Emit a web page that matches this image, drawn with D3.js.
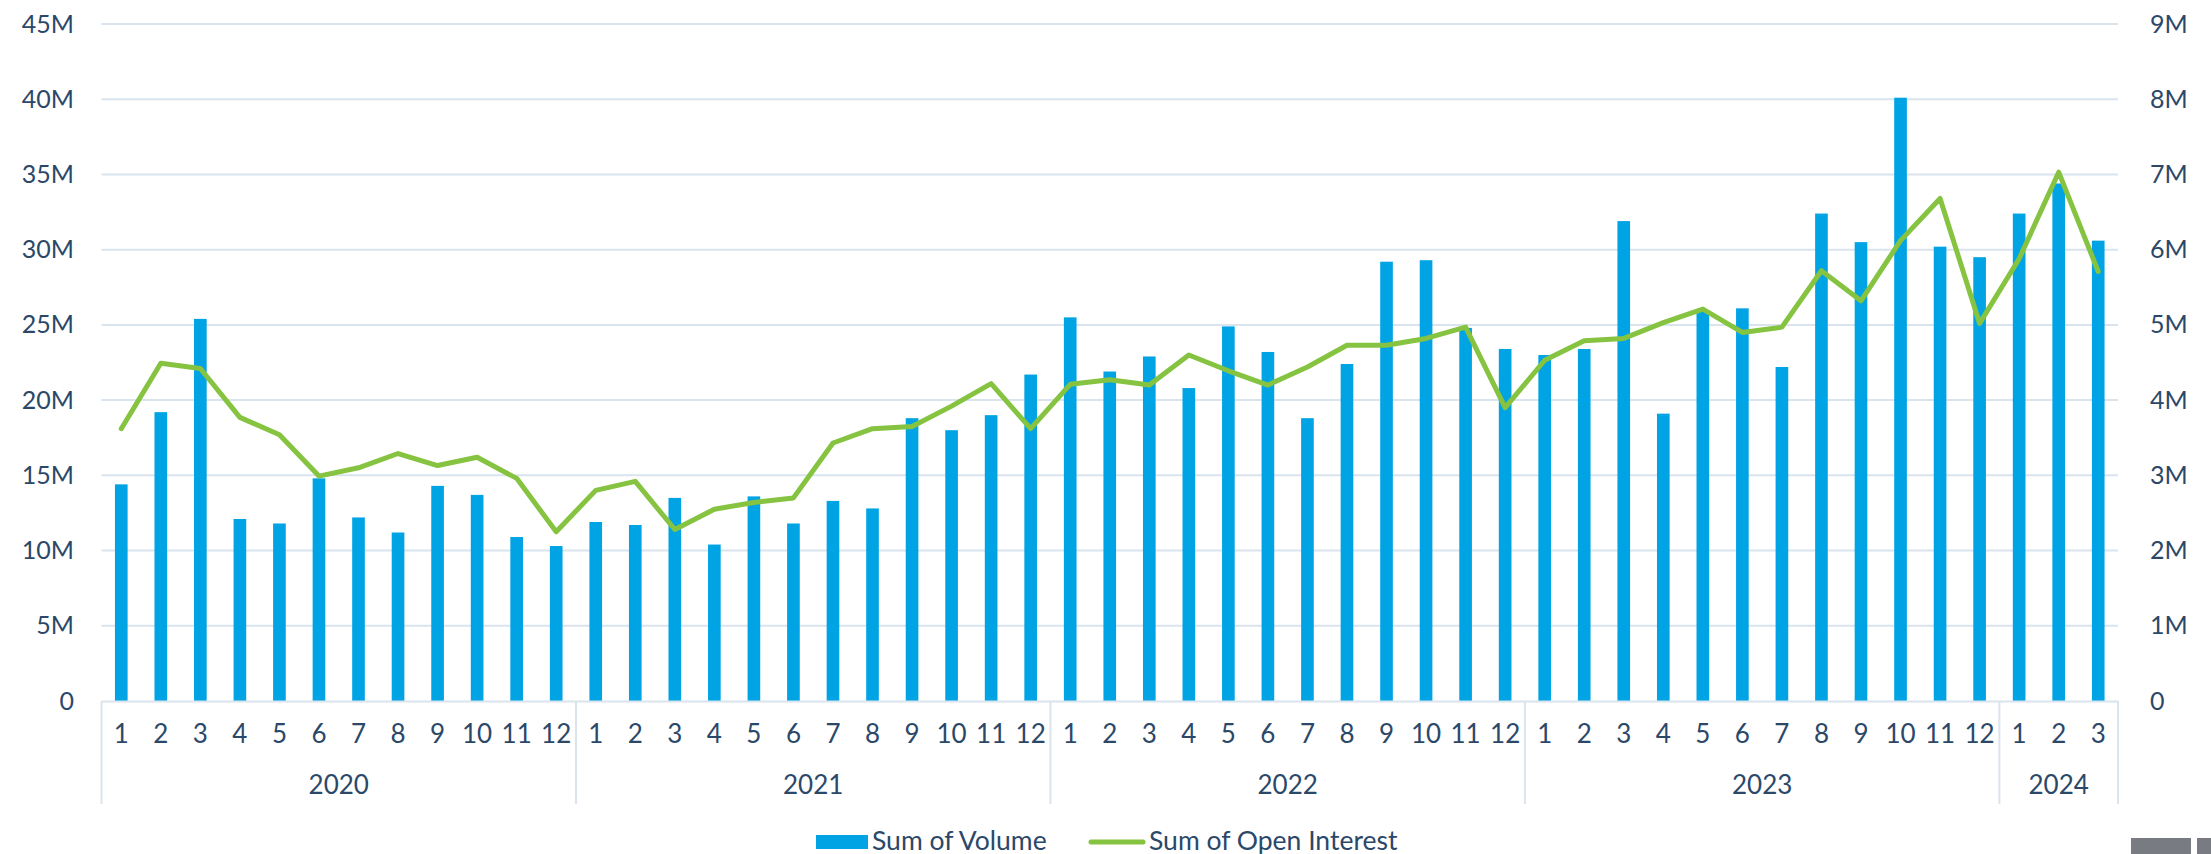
<!DOCTYPE html>
<html>
<head>
<meta charset="utf-8">
<script src="https://cdn.jsdelivr.net/npm/d3@7"></script>
<style>
  body { margin: 0; background: #fff; }
  text { font-family: Lato, "Open Sans", sans-serif; fill: #2b4869; }
</style>
</head>
<body>
<div id="chart"></div>
<script>
//Years and how many months each one covers.
let years = [2020, 2021, 2022, 2023, 2024]
let monthsPerYear = [12, 12, 12, 12, 3]

//Monthly volume, in millions.
let volume = [
  14.4, 19.2, 25.4, 12.1, 11.8, 14.8, 12.2, 11.2, 14.3, 13.7, 10.9, 10.3,
  11.9, 11.7, 13.5, 10.4, 13.6, 11.8, 13.3, 12.8, 18.8, 18.0, 19.0, 21.7,
  25.5, 21.9, 22.9, 20.8, 24.9, 23.2, 18.8, 22.4, 29.2, 29.3, 24.8, 23.4,
  23.0, 23.4, 31.9, 19.1, 25.9, 26.1, 22.2, 32.4, 30.5, 40.1, 30.2, 29.5,
  32.4, 34.4, 30.6
]

//Monthly open interest, in millions.
let openInterest = [
  3.62, 4.49, 4.42, 3.77, 3.54, 2.99, 3.10, 3.29, 3.13, 3.24, 2.96, 2.25,
  2.80, 2.92, 2.28, 2.55, 2.64, 2.70, 3.43, 3.62, 3.65, 3.92, 4.22, 3.62,
  4.21, 4.27, 4.20, 4.60, 4.39, 4.20, 4.44, 4.73, 4.73, 4.82, 4.97, 3.90,
  4.53, 4.79, 4.82, 5.03, 5.21, 4.90, 4.97, 5.72, 5.32, 6.12, 6.68, 5.02,
  5.88, 7.03, 5.71
]

//Tick values for both axes, in millions.
let leftTicks = [0, 5, 10, 15, 20, 25, 30, 35, 40, 45]
let rightTicks = [0, 1, 2, 3, 4, 5, 6, 7, 8, 9]

//Legend labels.
let legendNames = ["Sum of Volume", "Sum of Open Interest"]

const w = 2211
const h = 854
const plotLeft = 101.5
const plotRight = 2118
const plotTop = 24
const plotBottom = 701

const gridColor = "#dae4ee"
const barColor = "#00a4e4"
const lineColor = "#85c341"

//One entry per month, with its month number and year.
let rows = []
years.forEach((y, yi) => {
  for (let m = 1; m <= monthsPerYear[yi]; m++) {
    rows.push({ key: y + "-" + m, year: y, month: m })
  }
})
rows.forEach((r, i) => { r.vol = volume[i]; r.oi = openInterest[i] })

const svg = d3.select("#chart")
              .append("svg")
              .attr("width", w)
              .attr("height", h)

const x = d3.scaleBand()
            .domain(rows.map(d => d.key))
            .range([plotLeft, plotRight])
            .paddingInner(0.68)
            .paddingOuter(0.34)

const yLeft = d3.scaleLinear().domain([0, 45]).range([plotBottom, plotTop])
const yRight = d3.scaleLinear().domain([0, 9]).range([plotBottom, plotTop])

const fmt = d => d === 0 ? "0" : d + "M"

//Gridlines.
svg.append("g")
   .selectAll("line")
   .data(leftTicks.filter(d => d > 0))
   .enter()
   .append("line")
   .attr("x1", plotLeft)
   .attr("x2", plotRight)
   .attr("y1", d => yLeft(d))
   .attr("y2", d => yLeft(d))
   .attr("stroke", gridColor)
   .attr("stroke-width", 2)

//Left axis.
svg.append("g")
   .attr("transform", "translate(74,0)")
   .call(d3.axisLeft(yLeft).tickValues(leftTicks).tickFormat(fmt).tickSize(0))
   .call(g => g.select(".domain").remove())
   .selectAll("text")
   .attr("x", 0)
   .style("font-size", "25px")

//Right axis.
svg.append("g")
   .attr("transform", "translate(2150,0)")
   .call(d3.axisRight(yRight).tickValues(rightTicks).tickFormat(fmt).tickSize(0))
   .call(g => g.select(".domain").remove())
   .selectAll("text")
   .attr("x", 0)
   .style("font-size", "25px")

//Bars.
svg.append("g")
   .selectAll("rect")
   .data(rows)
   .enter()
   .append("rect")
   .attr("x", d => x(d.key))
   .attr("width", x.bandwidth())
   .attr("y", d => yLeft(d.vol))
   .attr("height", d => plotBottom - yLeft(d.vol))
   .attr("fill", barColor)

//Open interest line.
const line = d3.line()
               .x(d => x(d.key) + x.bandwidth() / 2)
               .y(d => yRight(d.oi))

svg.append("path")
   .datum(rows)
   .attr("d", line)
   .attr("fill", "none")
   .attr("stroke", lineColor)
   .attr("stroke-width", 5)
   .attr("stroke-linejoin", "round")
   .attr("stroke-linecap", "round")

//Month axis.
svg.append("g")
   .attr("transform", "translate(0," + plotBottom + ")")
   .call(d3.axisBottom(x).tickFormat(k => rows.find(r => r.key === k).month).tickSize(0).tickPadding(24))
   .call(g => g.select(".domain").attr("stroke", gridColor).attr("stroke-width", 2))
   .selectAll("text")
   .style("font-size", "26px")

//Year group boxes.
const step = x.step()
let groups = []
let start = 0
years.forEach((y, yi) => {
  groups.push({ year: y, x0: plotLeft + start * step, x1: plotLeft + (start + monthsPerYear[yi]) * step })
  start += monthsPerYear[yi]
})

svg.append("g")
   .selectAll("line")
   .data([plotLeft].concat(groups.map(g => g.x1)))
   .enter()
   .append("line")
   .attr("x1", d => d)
   .attr("x2", d => d)
   .attr("y1", plotBottom)
   .attr("y2", 804)
   .attr("stroke", gridColor)
   .attr("stroke-width", 2)

svg.append("g")
   .selectAll("text")
   .data(groups)
   .enter()
   .append("text")
   .attr("x", d => (d.x0 + d.x1) / 2)
   .attr("y", 794)
   .attr("text-anchor", "middle")
   .style("font-size", "26px")
   .text(d => d.year)

//Legend.
const legend = svg.append("g")
legend.append("rect")
      .attr("x", 816).attr("y", 835).attr("width", 52).attr("height", 14)
      .attr("fill", barColor)
legend.append("text")
      .attr("x", 872).attr("y", 850)
      .style("font-size", "26.5px")
      .text(legendNames[0])
legend.append("line")
      .attr("x1", 1091).attr("x2", 1143).attr("y1", 842).attr("y2", 842)
      .attr("stroke", lineColor).attr("stroke-width", 5).attr("stroke-linecap", "round")
legend.append("text")
      .attr("x", 1149).attr("y", 850)
      .style("font-size", "26.5px")
      .text(legendNames[1])

//Grey blocks in the bottom right corner.
svg.append("rect").attr("x", 2131).attr("y", 838).attr("width", 60).attr("height", 16).attr("fill", "#787c82")
svg.append("rect").attr("x", 2197).attr("y", 838).attr("width", 14).attr("height", 16).attr("fill", "#787c82")
</script>
</body>
</html>
